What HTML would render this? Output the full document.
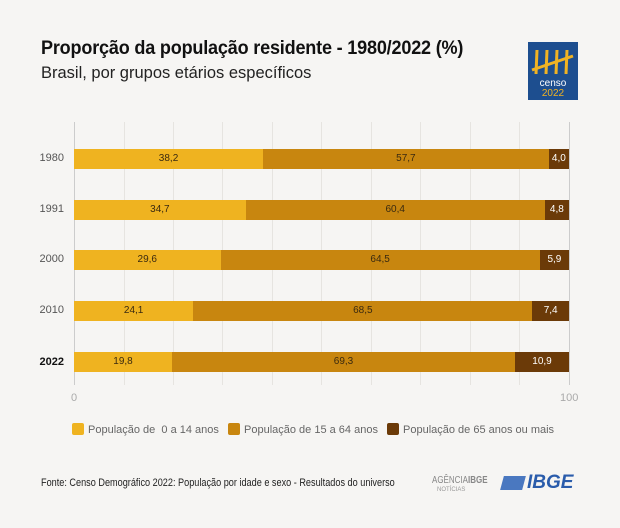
<!DOCTYPE html>
<html><head><meta charset="utf-8"><style>
body{margin:0;background:#f6f5f3;font-family:"Liberation Sans",sans-serif}
.c{position:relative;width:620px;height:528px;overflow:hidden;background:#f6f5f3}
.t{position:absolute;left:41px;top:38px;font-size:19px;font-weight:bold;color:#111;transform:scaleX(.95);transform-origin:left;white-space:nowrap;letter-spacing:-.2px}
.s{position:absolute;left:41px;top:63px;font-size:17px;color:#222;transform:scaleX(.97);transform-origin:left;white-space:nowrap}
.g{position:absolute;top:122px;height:263px;width:1px;background:#e6e4e0}
.y{position:absolute;left:30px;width:34px;text-align:right;font-size:11px;color:#555}
.b{position:absolute;height:20px;display:flex;font-size:10px;color:#3a2a10;line-height:20px;text-align:center}
.b div{height:100%}
.lg{position:absolute;top:423px;font-size:11px;color:#666;white-space:nowrap}
.lg i{display:inline-block;width:12px;height:12px;border-radius:2px;vertical-align:-2px;margin-right:4px}
</style></head><body><div class="c">
<div class="t">Proporção da população residente - 1980/2022 (%)</div>
<div class="s">Brasil, por grupos etários específicos</div>
<svg style="position:absolute;left:528px;top:42px" width="50" height="58"><rect width="50" height="58" fill="#1d4e8f"/><g stroke="#f0b323" stroke-width="3"><line x1="9" y1="8" x2="8" y2="32"/><line x1="19" y1="8" x2="18" y2="32"/><line x1="29" y1="8" x2="28" y2="32"/><line x1="39" y1="8" x2="38" y2="32"/><line x1="4" y1="28" x2="45" y2="14"/></g><text x="25" y="44" fill="#fff" font-size="10" text-anchor="middle" font-family="Liberation Sans">censo</text><text x="25" y="54" fill="#f0b323" font-size="10" text-anchor="middle" font-family="Liberation Sans">2022</text></svg>
<div class="g" style="left:74px;background:#ccc"></div><div class="g" style="left:124px"></div><div class="g" style="left:173px"></div><div class="g" style="left:222px"></div><div class="g" style="left:272px"></div><div class="g" style="left:321px"></div><div class="g" style="left:371px"></div><div class="g" style="left:420px"></div><div class="g" style="left:470px"></div><div class="g" style="left:519px"></div><div class="g" style="left:569px;background:#ccc"></div>
<div class="y" style="top:152px">1980</div><div class="y" style="top:203px">1991</div><div class="y" style="top:253px">2000</div><div class="y" style="top:304px">2010</div><div class="y" style="top:356px;font-weight:bold;color:#111">2022</div>
<div class="b" style="left:74px;width:495px;top:149px"><div style="width:38.2%;background:#efb320">38,2</div><div style="width:57.7%;background:#c8860f">57,7</div><div style="flex:1;background:#6b3a08;color:#fff">4,0</div></div>
<div class="b" style="left:74px;width:495px;top:200px"><div style="width:34.7%;background:#efb320">34,7</div><div style="width:60.4%;background:#c8860f">60,4</div><div style="flex:1;background:#6b3a08;color:#fff">4,8</div></div>
<div class="b" style="left:74px;width:495px;top:250px"><div style="width:29.6%;background:#efb320">29,6</div><div style="width:64.5%;background:#c8860f">64,5</div><div style="flex:1;background:#6b3a08;color:#fff">5,9</div></div>
<div class="b" style="left:74px;width:495px;top:301px"><div style="width:24.1%;background:#efb320">24,1</div><div style="width:68.5%;background:#c8860f">68,5</div><div style="flex:1;background:#6b3a08;color:#fff">7,4</div></div>
<div class="b" style="left:74px;width:495px;top:352px"><div style="width:19.8%;background:#efb320">19,8</div><div style="width:69.3%;background:#c8860f">69,3</div><div style="flex:1;background:#6b3a08;color:#fff">10,9</div></div>
<div style="position:absolute;left:71px;top:392px;font-size:11px;color:#aaa">0</div>
<div style="position:absolute;left:560px;top:392px;font-size:11px;color:#aaa">100</div>
<div class="lg" style="left:72px"><i style="background:#efb320"></i>População de &nbsp;0 a 14 anos</div>
<div class="lg" style="left:228px"><i style="background:#c8860f"></i>População de 15 a 64 anos</div>
<div class="lg" style="left:387px"><i style="background:#6b3a08"></i>População de 65 anos ou mais</div>
<div style="position:absolute;left:41px;top:477px;font-size:11px;color:#222;transform:scaleX(.83);transform-origin:left;white-space:nowrap">Fonte: Censo Demográfico 2022: População por idade e sexo - Resultados do universo</div>
<div style="position:absolute;left:432px;top:475px;font-size:10px;color:#888;transform:scaleX(.8);transform-origin:left;white-space:nowrap">AGÊNCIA<b>IBGE</b></div>
<div style="position:absolute;left:437px;top:487px;font-size:6px;color:#999">NOTÍCIAS</div>
<div style="position:absolute;left:502px;top:476px;width:22px;height:14px;background:#4a78c0;transform:skewX(-15deg)"></div>
<div style="position:absolute;left:527px;top:472px;font-size:19px;font-weight:bold;font-style:italic;color:#2a5cab">IBGE</div>
</div></body></html>
